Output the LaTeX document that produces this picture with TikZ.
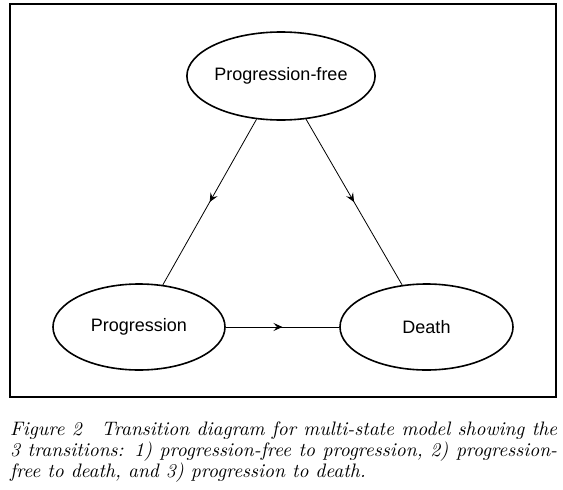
\documentclass[tikz,border=0pt]{standalone}
\usepackage{fontspec}
\newfontfamily\arialfont{Liberation Sans}
\newfontfamily\capfont{lmroman10-italic.otf}
\usetikzlibrary{shapes.geometric,arrows.meta,decorations.markings}
\tikzset{
  state/.style={ellipse,draw,line width=1.6pt,inner sep=0pt,font=\arialfont\fontsize{18}{20}\selectfont},
  trans/.style={line width=0.8pt,postaction={decorate},
    decoration={markings,mark=at position 0.5 with {\arrow{Stealth[length=9pt,width=8pt,inset=3.5pt]}}}},
  frame/.style={line width=1.1pt}
}
\begin{document}
\begin{tikzpicture}[x=1pt,y=-1pt]
\useasboundingbox (0,0) rectangle (563,490);
\draw[frame] (10,4) rectangle (556,397);
\node[state,minimum width=168pt,minimum height=88pt] (pf) at (281,76) {Progression-free};
\node[state,minimum width=172pt,minimum height=86pt] (p) at (139,327) {Progression};
\node[state,minimum width=173pt,minimum height=86pt] (d) at (426.5,327) {Death};
\draw[trans] (pf) -- (p);
\draw[trans] (pf) -- (d);
\draw[trans] (p) -- (d);
\node[anchor=north west,inner sep=0pt,text width=547pt,align=justify,
  font=\capfont\fontsize{19.5}{21}\selectfont] (cap) at (10,422)
  {Figure 2\quad Transition diagram for multi-state model showing the\linebreak
   3 transitions: 1) progression-free to progression, 2) progression-\linebreak
   free to death, and 3) progression to death.};
\end{tikzpicture}
\end{document}
